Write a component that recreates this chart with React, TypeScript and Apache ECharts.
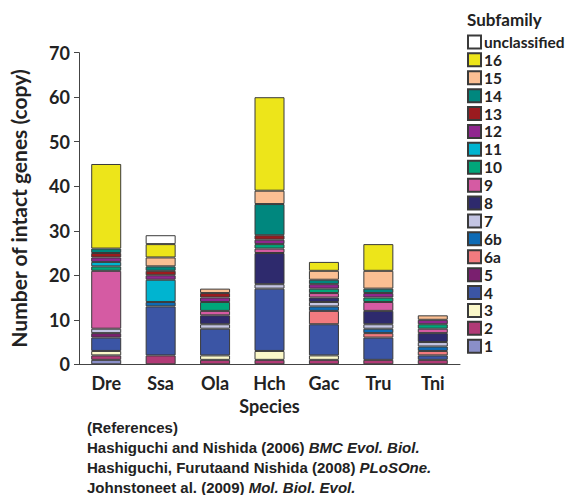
import React, { useEffect, useRef } from "react";
import * as echarts from "echarts";

const species = ["Dre", "Ssa", "Ola", "Hch", "Gac", "Tru", "Tni"];
const yTicks = [0, 10, 20, 30, 40, 50, 60, 70];

// values per subfamily, ordered by species above (bottom of stack first)
const sub1 = [1, 0, 0, 0, 0, 0, 0];
const sub2 = [1, 2, 1, 1, 1, 1, 1];
const sub3 = [1, 0, 1, 2, 1, 0, 0];
const sub4 = [3, 11, 6, 14, 7, 5, 1];
const sub5 = [1, 0, 0, 0, 0, 0, 0];
const sub6a = [0, 0, 0, 0, 3, 1, 1];
const sub6b = [0, 1, 0, 0, 1, 1, 1];
const sub7 = [1, 0, 1, 1, 1, 1, 1];
const sub8 = [0, 0, 2, 7, 1, 3, 2];
const sub9 = [13, 0, 1, 1, 1, 2, 1];
const sub10 = [1, 0, 2, 1, 1, 1, 1];
const sub11 = [1, 5, 0, 0, 0, 0, 0];
const sub12 = [1, 1, 1, 1, 1, 1, 1];
const sub13 = [1, 1, 1, 1, 0, 0, 0];
const sub14 = [1, 1, 0, 7, 1, 1, 0];
const sub15 = [0, 2, 1, 3, 2, 4, 1];
const sub16 = [19, 3, 0, 21, 2, 6, 0];
const subUnclassified = [0, 2, 0, 0, 0, 0, 0];

const subfamilies = [
  { name: "1", values: sub1, color: "#8a8fc8" },
  { name: "2", values: sub2, color: "#b13a76" },
  { name: "3", values: sub3, color: "#fbf8c9" },
  { name: "4", values: sub4, color: "#3b55a5" },
  { name: "5", values: sub5, color: "#7a1f6f" },
  { name: "6a", values: sub6a, color: "#f27b7f" },
  { name: "6b", values: sub6b, color: "#0d6bb5" },
  { name: "7", values: sub7, color: "#c3c4e2" },
  { name: "8", values: sub8, color: "#2e2a6d" },
  { name: "9", values: sub9, color: "#d55ba3" },
  { name: "10", values: sub10, color: "#00a67a" },
  { name: "11", values: sub11, color: "#00b4d0" },
  { name: "12", values: sub12, color: "#90268f" },
  { name: "13", values: sub13, color: "#9b1b1f" },
  { name: "14", values: sub14, color: "#00877e" },
  { name: "15", values: sub15, color: "#fbbf93" },
  { name: "16", values: sub16, color: "#ede51a" },
  { name: "unclassified", values: subUnclassified, color: "#ffffff" },
];

const refLines = [
  { plain: "(References)", italic: "" },
  { plain: "Hashiguchi and Nishida (2006) ", italic: "BMC Evol. Biol." },
  { plain: "Hashiguchi, Furutaand Nishida (2008) ", italic: "PLoSOne." },
  { plain: "Johnstoneet al. (2009) ", italic: "Mol. Biol. Evol." },
];

const FONT = "Lato";

export default function App() {
  const ref = useRef<HTMLDivElement>(null);
  useEffect(() => {
    document.body.style.margin = "0";
    if (!ref.current) return;
    const chart = echarts.init(ref.current, null, { renderer: "svg" });
    const series = subfamilies.map((s) => ({
      name: s.name,
      type: "bar",
      stack: "total",
      barWidth: 30,
      data: s.values.map((v) => (v === 0 ? null : v)),
      itemStyle: { color: s.color, borderColor: "#3a3a3a", borderWidth: 1 },
    }));
    const richRefs = refLines.map((l, i) => ({
      type: "text",
      left: 87,
      top: 420 + i * 20,
      style: {
        text: l.italic ? `{p|${l.plain}}{i|${l.italic}}` : `{p|${l.plain}}`,
        rich: {
          p: { fontFamily: "Liberation Sans", fontWeight: "bold", fontSize: 15, fill: "#222" },
          i: { fontFamily: "Liberation Sans", fontWeight: "bold", fontStyle: "italic", fontSize: 15, fill: "#222" },
        },
      },
    }));
    chart.setOption({
      animation: false,
      grid: { left: 77, right: 116, top: 52.7, bottom: 130.7 },
      title: {
        text: "Subfamily",
        left: 467,
        top: 11,
        padding: 0,
        textStyle: { fontFamily: FONT, fontWeight: "bold", fontSize: 17, color: "#222" },
      },
      legend: {
        orient: "vertical",
        left: 467,
        top: 33,
        padding: 0,
        icon: "rect",
        itemWidth: 13,
        itemHeight: 13,
        itemGap: 0,
        data: subfamilies.map((s) => s.name).reverse(),
        textStyle: { fontFamily: FONT, fontWeight: "bold", fontSize: 15.5, lineHeight: 17.9, color: "#222", padding: [0, 0, 0, -2] },
      },
      xAxis: {
        type: "category",
        data: species,
        name: "Species",
        nameLocation: "middle",
        nameGap: 31,
        nameTextStyle: { fontFamily: FONT, fontWeight: "bold", fontSize: 18, color: "#222" },
        axisLine: { lineStyle: { color: "#444", width: 1 } },
        axisTick: { show: false },
        axisLabel: { fontFamily: FONT, fontWeight: "bold", fontSize: 18, color: "#222", margin: 10 },
      },
      yAxis: {
        type: "value",
        min: yTicks[0],
        max: yTicks[yTicks.length - 1],
        interval: 10,
        name: "Number of intact genes (copy)",
        nameLocation: "middle",
        nameGap: 50,
        nameRotate: 90,
        nameTextStyle: { fontFamily: FONT, fontWeight: "bold", fontSize: 21, color: "#222" },
        axisLine: { show: true, lineStyle: { color: "#444", width: 1 } },
        axisTick: { show: true, length: 5, lineStyle: { color: "#444" } },
        splitLine: { show: false },
        axisLabel: { fontFamily: FONT, fontWeight: "bold", fontSize: 18, color: "#222", margin: 9 },
      },
      graphic: richRefs,
      series,
    });
    return () => chart.dispose();
  }, []);
  return <div ref={ref} style={{ width: 576, height: 495 }} />;
}
